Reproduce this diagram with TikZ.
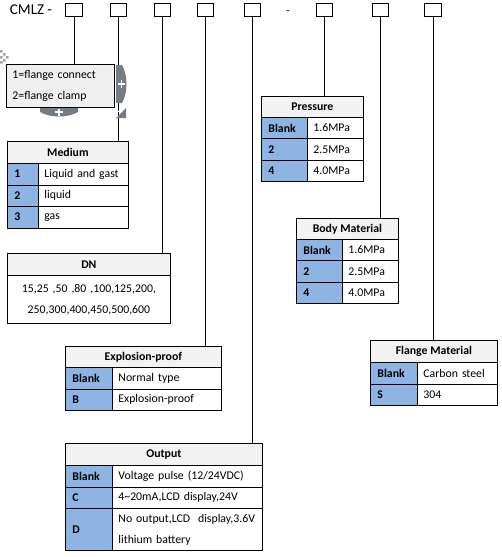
\documentclass[tikz,border=0pt]{standalone}
\usepackage{fontspec}
\setmainfont{Carlito}
\usetikzlibrary{positioning}

\definecolor{headgray}{RGB}{242,242,242}
\definecolor{keyblue}{RGB}{141,180,226}
\definecolor{notegray}{RGB}{240,240,240}
\definecolor{handlegray}{RGB}{118,124,132}

\newcommand{\tabfont}{\fontsize{11.8}{21}\selectfont}

\tikzset{
  codebox/.style={draw, line width=0.8pt, minimum width=16.5pt, minimum height=13.5pt, inner sep=0pt},
  headcell/.style={draw, line width=0.8pt, fill=headgray, font=\tabfont\bfseries, anchor=north west, inner sep=0pt},
  keycell/.style={draw, line width=0.8pt, fill=keyblue, font=\tabfont\bfseries, anchor=north west, inner xsep=7pt, inner ysep=0pt, align=left},
  valcell/.style={draw, line width=0.8pt, fill=white, anchor=north west, inner xsep=6pt, inner ysep=0pt, align=left},
  conn/.style={line width=0.8pt}
}

\begin{document}
\begin{tikzpicture}[x=1pt, y=-1pt, font=\tabfont]
    \useasboundingbox[fill=white] (0,0) rectangle (502,557);

    % Model code and the code boxes
    \node[font=\fontsize{15}{18}\selectfont] (title) at (31,10) {CMLZ -};
    \node[codebox] (b1) at (74,10) {};
    \node[codebox] (b2) at (118.5,10) {};
    \node[codebox] (b3) at (162.5,10) {};
    \node[codebox] (b4) at (205.5,10) {};
    \node[codebox] (b5) at (252.5,10) {};
    \node (dash) at (288,12.5) {-};
    \node[codebox] (b6) at (324.5,10) {};
    \node[codebox] (b7) at (380.5,10) {};
    \node[codebox] (b8) at (433,10) {};

    % Connection type note
    \node[draw, line width=0.8pt, fill=notegray, anchor=north west, minimum width=108pt, minimum height=43pt,
          text width=96pt, inner xsep=6pt, inner ysep=0pt, align=left] (flange) at (6,64)
          {1=flange connect\\2=flange clamp};

    % Medium
    \node[headcell, minimum width=121pt, minimum height=22pt] (medium) at (7,141) {Medium};
    \node[keycell, minimum height=21.5pt, text width=17pt] (med1k) at (7,163) {1};
    \node[valcell, minimum height=21.5pt, text width=78pt] (med1v) at (38,163) {Liquid and gast};
    \node[keycell, minimum height=21.5pt, text width=17pt] (med2k) at (7,184.5) {2};
    \node[valcell, minimum height=21.5pt, text width=78pt] (med2v) at (38,184.5) {liquid};
    \node[keycell, minimum height=21.5pt, text width=17pt] (med3k) at (7,206) {3};
    \node[valcell, minimum height=21.5pt, text width=78pt] (med3v) at (38,206) {gas};

    % DN
    \node[headcell, minimum width=163pt, minimum height=22pt] (dn) at (7,253) {DN};
    \node[valcell, minimum height=48pt, text width=151pt, align=center] (dnv) at (7,275)
          {15,25 ,50 ,80 ,100,125,200,\\250,300,400,450,500,600};

    % Explosion-proof
    \node[headcell, minimum width=156pt, minimum height=21pt] (explo) at (65,346) {Explosion-proof};
    \node[keycell, minimum height=21.5pt, text width=33pt] (explo1k) at (65,367) {Blank};
    \node[valcell, minimum height=21.5pt, text width=97pt] (explo1v) at (112,367) {Normal type};
    \node[keycell, minimum height=21.5pt, text width=33pt] (explo2k) at (65,388.5) {B};
    \node[valcell, minimum height=21.5pt, text width=97pt] (explo2v) at (112,388.5) {Explosion-proof};

    % Output
    \node[headcell, minimum width=197pt, minimum height=22pt] (output) at (65,443) {Output};
    \node[keycell, minimum height=21.5pt, text width=33pt] (out1k) at (65,465) {Blank};
    \node[valcell, minimum height=21.5pt, text width=138pt] (out1v) at (112,465) {Voltage pulse (12/24VDC)};
    \node[keycell, minimum height=21.5pt, text width=33pt] (out2k) at (65,486.5) {C};
    \node[valcell, minimum height=21.5pt, text width=138pt] (out2v) at (112,486.5) {4\textasciitilde20mA,LCD display,24V};
    \node[keycell, minimum height=42pt, text width=33pt] (out3k) at (65,508) {D};
    \node[valcell, minimum height=42pt, text width=138pt] (out3v) at (112,508) {No output,LCD\ \ display,3.6V\\lithium battery};

    % Pressure
    \node[headcell, minimum width=102pt, minimum height=21pt] (pressure) at (261,96) {Pressure};
    \node[keycell, minimum height=21.3pt, text width=32pt] (pre1k) at (261,117) {Blank};
    \node[valcell, minimum height=21.3pt, text width=44pt] (pre1v) at (307,117) {1.6MPa};
    \node[keycell, minimum height=21.3pt, text width=32pt] (pre2k) at (261,138.3) {2};
    \node[valcell, minimum height=21.3pt, text width=44pt] (pre2v) at (307,138.3) {2.5MPa};
    \node[keycell, minimum height=21.3pt, text width=32pt] (pre3k) at (261,159.6) {4};
    \node[valcell, minimum height=21.3pt, text width=44pt] (pre3v) at (307,159.6) {4.0MPa};

    % Body material
    \node[headcell, minimum width=102pt, minimum height=21pt] (body) at (296,218) {Body Material};
    \node[keycell, minimum height=21.3pt, text width=32pt] (body1k) at (296,239) {Blank};
    \node[valcell, minimum height=21.3pt, text width=44pt] (body1v) at (342,239) {1.6MPa};
    \node[keycell, minimum height=21.3pt, text width=32pt] (body2k) at (296,260.3) {2};
    \node[valcell, minimum height=21.3pt, text width=44pt] (body2v) at (342,260.3) {2.5MPa};
    \node[keycell, minimum height=21.3pt, text width=32pt] (body3k) at (296,281.6) {4};
    \node[valcell, minimum height=21.3pt, text width=44pt] (body3v) at (342,281.6) {4.0MPa};

    % Flange material
    \node[headcell, minimum width=127pt, minimum height=22pt] (flmat) at (370,340) {Flange Material};
    \node[keycell, minimum height=21.5pt, text width=33pt] (flm1k) at (370,362) {Blank};
    \node[valcell, minimum height=21.5pt, text width=68pt] (flm1v) at (417,362) {Carbon steel};
    \node[keycell, minimum height=21.5pt, text width=33pt] (flm2k) at (370,383.5) {S};
    \node[valcell, minimum height=21.5pt, text width=68pt] (flm2v) at (417,383.5) {304};

    % Leader lines from the code boxes
    \draw[conn] (b1.south) -- (b1.south |- flange.north);
    \draw[conn] (b2.south) -- (b2.south |- medium.north);
    \draw[conn] (b3.south) -- (b3.south |- dn.north);
    \draw[conn] (b4.south) -- (b4.south |- explo.north);
    \draw[conn] (b5.south) -- (b5.south |- output.north);
    \draw[conn] (b6.south) -- (b6.south |- pressure.north);
    \draw[conn] (b7.south) -- (b7.south |- body.north);
    \draw[conn] (b8.south) -- (b8.south |- flmat.north);

    % Editing handles round the note
    \fill[handlegray] (116,65) -- (122,65) .. controls (128,75) and (128,93) .. (122,103) -- (116,103) -- cycle;
    \draw[white, line width=1.6pt] (117.5,84) -- (125,84) (121.3,80.3) -- (121.3,87.7);
    \fill[handlegray] (40,108) -- (78,108) -- (78,112) .. controls (68,118) and (50,118) .. (40,112) -- cycle;
    \draw[white, line width=1.6pt] (55,112) -- (63,112) (59,108.5) -- (59,115.5);
    \fill[handlegray] (126,108) -- (126,118) -- (116,118) -- cycle;
    \draw[white, line width=1pt] (116,114) -- (122,108);
    \fill[handlegray!70] (0,50) rectangle (2.5,52.5) (3,53) rectangle (5.5,55.5) (6,56) rectangle (8.5,58.5)
                         (3,59) rectangle (5.5,61.5) (0,56) rectangle (2.5,58.5) (0,61) rectangle (2.5,63.5);
\end{tikzpicture}
\end{document}
